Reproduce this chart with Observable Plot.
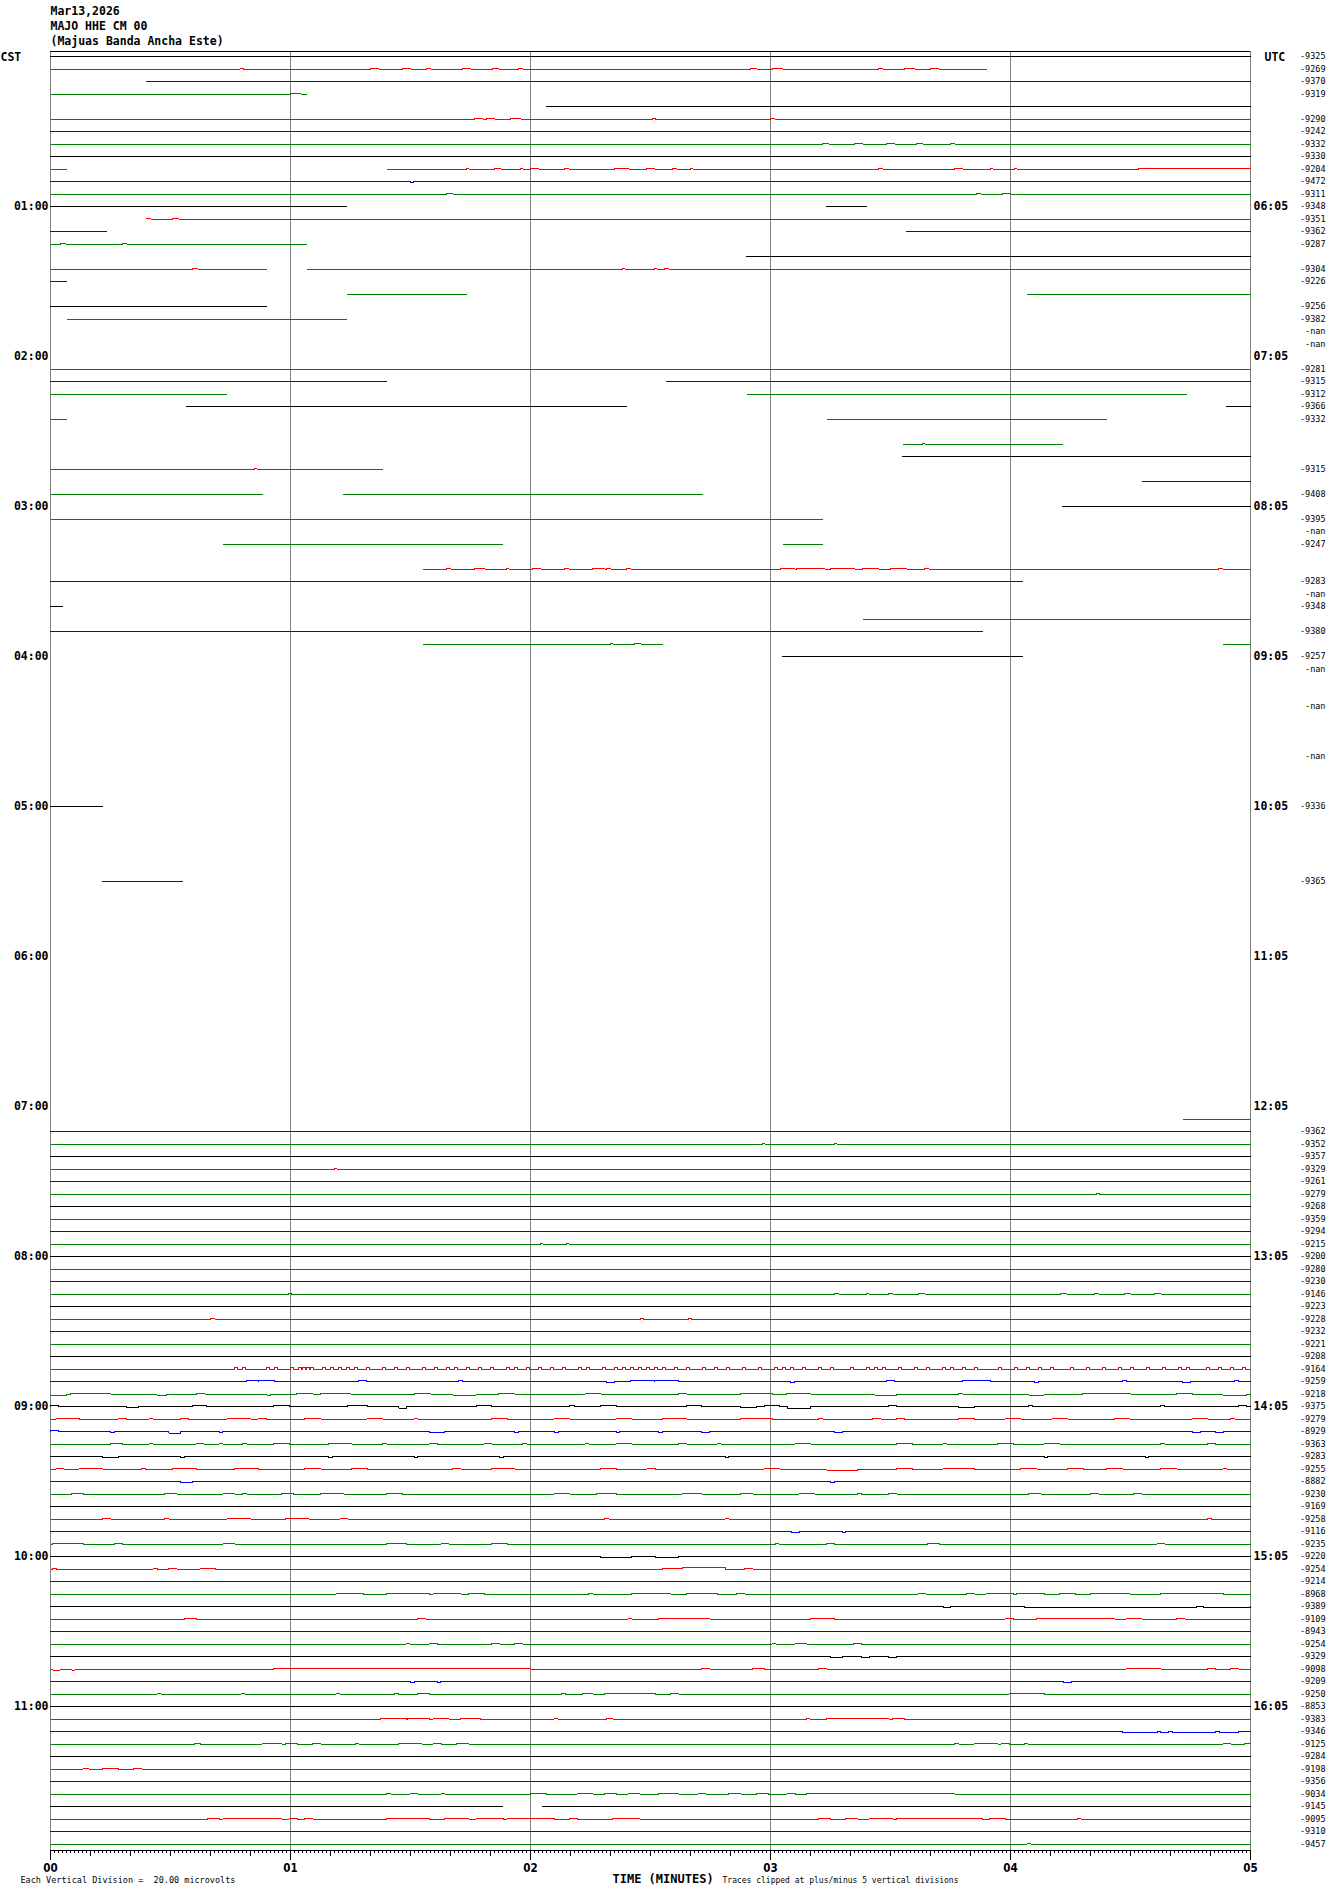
<!DOCTYPE html>
<html><head><meta charset="utf-8">
<script src="https://cdn.jsdelivr.net/npm/d3@7"></script>
<script src="https://cdn.jsdelivr.net/npm/@observablehq/plot@0.6"></script>
<style>html,body{margin:0;padding:0;background:#fff;} svg{display:block}</style>
</head><body><div id="chart"></div>
<script>
// ---------- DATA ----------
const headerLines = ["Mar13,2026", "MAJO HHE CM 00", "(Majuas Banda Ancha Este)"];
const traceColors = ["#000000", "#ff0000", "#0000ff", "#008000"]; // row cycle
const rowCount = 144;           // 5-minute rows, 00:00 .. 11:55 CST
const secondsPerRow = 300;
const cstHours = ["01:00","02:00","03:00","04:00","05:00","06:00","07:00","08:00","09:00","10:00","11:00"];
const utcHours = ["06:05","07:05","08:05","09:05","10:05","11:05","12:05","13:05","14:05","15:05","16:05"];
const minuteLabels = ["00","01","02","03","04","05"];

// right-hand row readings [row, text]
const rowReadings = [
 [0,"-9325"],[1,"-9269"],[2,"-9370"],[3,"-9319"],[5,"-9290"],[6,"-9242"],[7,"-9332"],[8,"-9330"],
 [9,"-9204"],[10,"-9472"],[11,"-9311"],[12,"-9348"],[13,"-9351"],[14,"-9362"],[15,"-9287"],
 [17,"-9304"],[18,"-9226"],[20,"-9256"],[21,"-9382"],[22,"-nan"],[23,"-nan"],
 [25,"-9281"],[26,"-9315"],[27,"-9312"],[28,"-9366"],[29,"-9332"],[33,"-9315"],[35,"-9408"],
 [37,"-9395"],[38,"-nan"],[39,"-9247"],[42,"-9283"],[43,"-nan"],[44,"-9348"],[46,"-9380"],
 [48,"-9257"],[49,"-nan"],[52,"-nan"],[56,"-nan"],[60,"-9336"],[66,"-9365"],
 [86,"-9362"],[87,"-9352"],[88,"-9357"],[89,"-9329"],[90,"-9261"],[91,"-9279"],[92,"-9268"],[93,"-9359"],
 [94,"-9294"],[95,"-9215"],[96,"-9200"],[97,"-9280"],[98,"-9230"],[99,"-9146"],[100,"-9223"],[101,"-9228"],
 [102,"-9232"],[103,"-9221"],[104,"-9208"],[105,"-9164"],[106,"-9259"],[107,"-9218"],[108,"-9375"],
 [109,"-9279"],[110,"-8929"],[111,"-9363"],[112,"-9283"],[113,"-9255"],[114,"-8882"],[115,"-9230"],
 [116,"-9169"],[117,"-9258"],[118,"-9116"],[119,"-9235"],[120,"-9220"],[121,"-9254"],[122,"-9214"],
 [123,"-8968"],[124,"-9389"],[125,"-9109"],[126,"-8943"],[127,"-9254"],[128,"-9329"],[129,"-9098"],
 [130,"-9209"],[131,"-9250"],[132,"-8853"],[133,"-9383"],[134,"-9346"],[135,"-9125"],[136,"-9284"],
 [137,"-9198"],[138,"-9356"],[139,"-9034"],[140,"-9145"],[141,"-9095"],[142,"-9310"],[143,"-9457"]
];

// recorded segments [row, startSec, endSec]
const segments = [
 [0,0,300],[1,0,234],[2,24,300],[3,0,64],[4,124,300],[5,0,300],[6,0,300],[7,0,300],[8,0,300],
 [9,0,4],[9,84,300],[10,0,300],[11,0,300],[12,0,74],[12,194,204],[13,24,300],[14,0,14],[14,214,300],
 [15,0,64],[16,174,300],[17,0,54],[17,64,300],[18,0,4],[19,74,104],[19,244,300],[20,0,54],[21,4,74],
 [25,0,300],[26,0,84],[26,154,300],[27,0,44],[27,174,284],[28,34,144],[28,294,300],[29,0,4],[29,194,264],
 [31,213,253],[32,213,300],[33,0,83],[34,273,300],[35,0,53],[35,73,163],[36,253,300],[37,0,193],
 [39,43,113],[39,183,193],[41,93,300],[42,0,243],[44,0,3],[45,203,300],[46,0,233],[47,93,153],[47,293,300],
 [48,183,243],[60,0,13],[66,13,33],[85,283,300],
 [86,0,300],[87,0,300],[88,0,300],[89,0,300],[90,0,300],[91,0,300],[92,0,300],[93,0,300],[94,0,300],
 [95,0,300],[96,0,300],[97,0,300],[98,0,300],[99,0,300],[100,0,300],[101,0,300],[102,0,300],[103,0,300],
 [104,0,300],[105,0,300],[106,0,300],[107,0,300],[108,0,300],[109,0,300],[110,0,300],[111,0,300],
 [112,0,300],[113,0,300],[114,0,300],[115,0,300],[116,0,300],[117,0,300],[118,0,300],[119,0,300],
 [120,0,300],[121,0,300],[122,0,300],[123,0,300],[124,0,300],[125,0,300],[126,0,300],[127,0,300],
 [128,0,300],[129,0,300],[130,0,300],[131,0,300],[132,0,300],[133,0,300],[134,0,300],[135,0,300],
 [136,0,300],[137,0,300],[138,0,300],[139,0,300],[140,0,113],[140,123,300],[141,0,300],[142,0,300],[143,0,300]
];

// trace excursions [row, startSec, endSec, amplitude] (+ = up)
const excursions = [
 [1,47.4,48.2,1],[1,80,82,1],[1,88,90,1],[1,94,95,1],[1,103,105,1],[1,110.5,112,1],[1,117,118,1],
 [1,175,176.5,1],[1,180.5,183,1],[1,207,208,1],[1,213.5,216,1],[1,220,222,1],
 [3,60,62.5,1],
 [5,106,108,1],[5,109,111,1],[5,115,117.5,1],[5,150.5,151.2,1],[5,180,181,1],
 [7,193,194.5,1],[7,201,203,1],[7,209,211,1],[7,216.5,218,1],[7,225,226,1],
 [9,104,104.6,1],[9,111,112.5,1],[9,117.5,118.1,1],[9,120,122,1],[9,128.5,129.5,1],[9,141,144.5,1],
 [9,149,151,1],[9,155.5,156.6,1],[9,160,160.6,1],[9,207,208,1],[9,226,228,1],[9,235,235.6,1],
 [9,241,241.6,1],[9,272,300,1],
 [10,90,90.8,-1],
 [11,99,100.5,1],[11,231.5,232.5,1],[11,238,240,1],
 [13,24,25,1],[13,30.5,32,1],
 [15,2.5,3.8,1],[15,18,19,1],
 [17,35.5,36.8,1],[17,143,143.6,1],[17,151,151.6,1],[17,153.5,154.5,1],
 [31,218,218.6,1],[33,51,51.6,1],
 [41,99,100,1],[41,106,108.5,1],[41,114,114.6,1],[41,120.5,122.5,1],[41,128.5,129.5,1],[41,135.5,138.5,1],
 [41,139,140,1],[41,144,145,1],[41,182.5,186,1],[41,186.5,193.5,1],[41,195,201,1],[41,203,207,1],
 [41,210,214,1],[41,218.5,219.5,1],[41,292,293,1],
 [47,140,140.6,1],[47,146,147.5,1],
 [87,178,178.6,1],[87,196,196.6,1],[89,71,71.6,1],[91,261.5,262.2,1],[95,122.5,123.1,1],[95,129,129.6,1],
 [99,59.5,60.2,1],[99,196,197,1],[99,204,204.6,1],[99,209.5,210.5,1],[99,217,218.5,1],[99,252.5,254,1],
 [99,261,262,1],[99,268.5,270,1],[99,276,277.5,1],
 [101,40,41,1],[101,147.5,148.2,1],[101,159.5,160.2,1],
 [106,49,52,1],[106,52,56,1.5],[106,77,79,1],[106,102,103,1],[106,139,141,-1],[106,145,151,1],[106,151,157,1.5],
 [106,185,186,-1],[106,209,211,1],[106,228,235,1],[106,246,247,-1],[106,268,269,1],[106,283,285,-1],[106,296,297,1],
 [107,0,4,-1],[107,5,15,1],[107,26.5,29,-1],[107,36.5,38.5,1],[107,54,55,-1],[107,61.5,65.5,1],[107,67.5,75,1],
 [107,91,95,1],[107,100.6,106.4,-1],[107,112,116,1],[107,133.7,137.5,1],[107,157,159,1],[107,172.6,180.4,1],
 [107,184,190,1],[107,206,211.5,-1],[107,227,228,1],[107,244.6,248.4,-1],[107,258,270,1],[107,281.5,285.4,1],[107,293,299,-1],
 [108,0,2,1],[108,18.9,22,-1],[108,35.4,39,1.5],[108,55.8,59.7,1.5],[108,74.3,79.2,1.5],[108,87,89,-1.5],[108,106.4,110.3,1],
 [108,129.8,131,1],[108,137.5,141.4,1],[108,159,162.8,1],[108,172.6,176.5,-1],[108,178.4,182.3,1.5],[108,184.2,190.1,-1.5],
 [108,209.5,211.5,1],[108,227,231,-1],[108,244.6,245.5,1],[108,277.6,278.5,1],[108,297,299,1],
 [109,1.4,7.2,1],[109,16.9,18.9,1],[109,24.7,25.5,1],[109,32.5,34.4,1],[109,44.2,50,1],[109,51.9,53.9,1],
 [109,63.6,67.5,1],[109,79.2,83.1,1],[109,90.9,91.8,1],[109,110.3,114.2,1],[109,125.9,129.8,1],[109,141.4,145.3,1],
 [109,153.1,159,1],[109,172.6,180.4,1],[109,192,193,1],[109,205.6,207.6,1],[109,211.5,213.4,1],[109,227,230.9,1],
 [109,238.7,242.6,1],[109,250.4,254.3,1],[109,266,269.8,1],[109,285.4,289.3,1],[109,295.1,296,1],
 [110,0,2,1],[110,15,16,-1],[110,29.6,32.5,-1.5],[110,42.2,43,-1],[110,94.7,98.6,-1],[110,116.1,117,-1],
 [110,125.9,127,-1],[110,141.4,142.3,-1],[110,152.1,153.1,-1],[110,162.8,164.8,-1],[110,195.9,197.9,-1],
 [110,285.4,287.4,-1],[110,291.2,293.2,-1],
 [111,15,17.9,1],[111,24.7,25.5,1],[111,36.4,38.3,1],[111,42.2,43,1],[111,48.1,49,1],[111,55.8,59.7,1],
 [111,69.5,75.3,1],[111,83.1,84,1],[111,94.7,96.7,1],[111,108.4,110.3,1],[111,118.1,119,1],[111,133.7,134.6,1],
 [111,141.4,145.3,1],[111,157,159,1],[111,166.7,167.5,1],[111,186.2,190.1,1],[111,211.5,215.4,1],[111,223.2,224,1],
 [111,236.8,240.7,1],[111,248.4,252.3,1],[111,277.6,278.5,1],[111,289.3,291.2,1],
 [112,13,16.9,-1],[112,32.5,33.4,-1],[112,69.5,70.4,-1],[112,90.9,91.8,-1],[112,112.3,113.2,-1],
 [112,168.7,169.6,-1],[112,248.4,249.3,-1],[112,273.7,274.6,-1],
 [113,1.4,3.3,1],[113,7.2,13,1],[113,22.8,23.7,1],[113,30.5,36.4,1],[113,46.1,51.9,1],[113,63.6,67.5,1],
 [113,75.3,79.2,1],[113,100.6,102.5,1],[113,110.3,116.1,1],[113,137.5,141.4,1],[113,149.2,151.2,1],
 [113,178.4,182.3,1],[113,194,201.8,-1],[113,211.5,215.4,1],[113,223.2,230.9,1],[113,242.6,246.5,1],
 [113,254.3,258.2,1],[113,264,268,1],[113,277.6,281.5,1],[113,293.2,294,1],
 [114,32.5,35.4,-1],[114,194.9,196,-1],
 [115,5.3,8.2,1],[115,28.6,31.5,1],[115,43.2,46.1,1],[115,48.1,49,1],[115,57.8,60.7,1],[115,67.5,73.3,1],
 [115,84,87.9,1],[115,125.9,129.8,1],[115,136.6,141.4,1],[115,157.9,162.8,1],[115,172.6,175.5,1],
 [115,187.2,191.1,1],[115,201.8,202.7,1],[115,209.5,211.5,1],[115,244.6,247.5,1],[115,260.1,262.1,1],[115,270.8,272.8,1],
 [117,13,15,1],[117,28.6,29.5,1],[117,44.2,50,1],[117,58.8,64.6,1],[117,72.4,74.3,1],[117,138.5,139.5,1],
 [117,168.7,169.6,1],[117,289.3,290.2,1],
 [118,185.2,187.2,-1],[118,197.9,198.8,-1],
 [119,0.5,8.2,1],[119,16,17.9,1],[119,43.2,46.1,1],[119,84,88.9,1],[119,97.7,99.6,1],[119,110.3,114.2,1],
 [119,181.3,182,1],[119,194,195.9,1],[119,219.3,222.2,1],[119,276.7,278.6,1],
 [120,137.5,145.3,-1],[120,151.2,157,-1],
 [121,0.5,1.4,1],[121,25.7,26.7,1],[121,29.6,31.5,1],[121,37.4,41.2,1],[121,153.1,158,1],[121,158,168.7,1.5],[121,173.5,175.5,1],
 [123,71.4,78.2,1],[123,84,94.7,1],[123,95.7,102.5,1],[123,104.5,108.4,1],[123,134.6,135.5,1],[123,145.3,155.1,1],
 [123,159,166.7,1],[123,171.6,173.5,1],[123,216.9,218.8,1],[123,229,231,1],[123,233.9,240.7,1],[123,241.6,248.4,1],
 [123,252.3,256.2,1],[123,260.1,269.8,1],[123,277.6,293.2,1],
 [124,223.2,225.1,-1],[124,243.6,286.4,-1],[124,288.3,300,-1],
 [125,33.5,36.4,1],[125,91.8,93.8,1],[125,144.4,145.3,1],[125,152.1,164.8,1],[125,190.1,195.9,1],[125,238.7,240.7,1],
 [125,246.5,266,1],[125,268.9,272.8,1],[125,281.5,283.5,1],
 [127,88.9,89.8,1],[127,94.7,96.7,1],[127,110.3,112.3,1],[127,116.1,118.1,1],[127,180.4,181.3,1],[127,186.2,189.1,1],[127,200.8,202.7,1],
 [128,194.9,197.9,-1],[128,202.7,204.7,-1],[128,209.5,211.5,-1],
 [129,0.5,2.4,-1],[129,5.3,6.2,-1],[129,55.8,120,1],[129,162.8,164.8,1],[129,175.5,178.4,1],[129,192,194,1],
 [129,268.9,277.6,1],[129,289.3,291.2,1],[129,295.1,297.1,1],
 [130,89.9,91,-1],[130,96.7,97.6,-1],[130,253.3,255.3,-1],
 [131,26.7,27.6,1],[131,47.7,48.6,1],[131,71.4,72.3,1],[131,86,86.9,1],[131,91.8,94.7,1],[131,127.8,128.7,1],
 [131,133.1,135.6,1],[131,138.5,151.2,1],[131,155.1,157,1],[131,239.7,248.4,1],
 [133,82.5,88.9,1],[133,89.3,94.7,1],[133,95.7,99.6,1],[133,102.5,107.4,1],[133,125.9,126.8,1],[133,139.1,140.5,1],
 [133,189.1,189.8,1],[133,194,209.5,1],[133,210.5,213.4,1],
 [134,267.9,276.7,-1],[134,277.6,279.6,-1],[134,280.5,291.2,-1],[134,292.2,297.1,-1],
 [135,36,37.4,1],[135,52.9,57.8,1],[135,58.8,61.7,1],[135,65.6,67.5,1],[135,76.3,77,1],[135,87,92.8,1],
 [135,95.7,97.7,1],[135,101.6,104.5,1],[135,226.1,227,1],[135,230.9,236.8,1],[135,237.7,239.7,1],[135,243.6,244.3,1],
 [135,293.2,295.1,1],[135,298.6,300,1],
 [137,8.2,9.5,1],[137,13,16.9,1],[137,20.8,22.8,1],
 [139,84,85,1],[139,89.9,91.8,1],[139,97.7,98.6,1],[139,120,123.9,1],[139,131.7,135.6,1],[139,138.5,141.4,1],
 [139,144.4,147.3,1],[139,152.1,157,1],[139,161.9,163.8,1],[139,169.6,172.6,1],[139,176.5,179.4,1],
 [139,184.2,186.2,1],[139,189.1,226.1,1],
 [141,39.3,42.2,1],[141,43.2,57.8,1],[141,59.7,61.7,1],[141,63.6,65.6,1],[141,84,94.7,1],[141,98.6,104.5,1],
 [141,106.4,113.2,1],[141,114.2,125.9,1],[141,129.8,131.7,1],[141,140.5,147.3,1],[141,192,194.9,1],
 [141,198.8,201.8,1],[141,204.7,210.5,1],[141,211.5,232.9,1],[141,234.8,238.7,1],[141,256.8,257.5,1],
 [143,244.2,245,1]
];
// row 105: dense short spikes (seconds)
const spikes105 = [46,48,54,56,60,62,63,64,65,68,70,72,74,76,79,83,86,89,93,96,99,101,104,107,110,114,116,119,
 122,125,128,132,134,138,141,143,145,147,149,151,153,156,159,163,166,169,173,177,181,183,185,188,192,195,
 200,204,206,208,212,216,219,223,225,228,231,237,241,244,247,250,255,259,263,267,270,274,278,282,284,289,292,295,298];

// ---------- LAYOUT ----------
const W = 1330, H = 1894;
const mT = 51, mB = 44, mL = 50, mR = 80;
const yDomain = [-0.4, 143.52];
const rowPx = (H - mT - mB) / (yDomain[1] - yDomain[0]);
const ampRows = 1 / rowPx;

const allEx = excursions.concat(spikes105.map(t => [105, t, t + 0.7, 1.5]));
const exByRow = d3.group(allEx, d => d[0]);
const pts = [];
segments.forEach(([row, s0, s1], k) => {
  const color = traceColors[row % 4];
  const ex = (exByRow.get(row) || []).filter(b => b[1] < s1 && b[2] > s0).sort((a, b) => a[1] - b[1]);
  pts.push({t: s0, y: row, k, color});
  let prev = s0;
  for (const [, b0, b1, a] of ex) {
    const st = Math.max(b0, prev, s0), en = Math.min(b1, s1);
    if (en <= st) continue;
    pts.push({t: st, y: row - a * ampRows, k, color});
    pts.push({t: en, y: row, k, color});
    prev = en;
  }
  pts.push({t: s1, y: row, k, color});
});

const secTicks = d3.range(0, secondsPerRow + 1);
const tickLen = s => (s % 60 === 0 ? 10 : s % 10 === 0 ? 6 : 3);
const minuteSecs = minuteLabels.map((_, i) => i * 60);
const hourRows = cstHours.map((h, i) => ({row: (i + 1) * 12, cst: h, utc: utcHours[i]}));

const mono = "DejaVu Sans Mono, monospace";
const narrow = "Liberation Sans Narrow, DejaVu Sans Condensed, DejaVu Sans, sans-serif";

const chart = Plot.plot({
  width: W, height: H,
  marginTop: mT, marginBottom: mB, marginLeft: mL, marginRight: mR,
  x: {domain: [0, secondsPerRow], axis: null},
  y: {domain: yDomain, reverse: true, axis: null},
  color: {type: "identity"},
  style: {fontFamily: mono, background: "#fff", color: "#000"},
  marks: [
    Plot.ruleX(minuteSecs, {stroke: "#808080", strokeWidth: 1, shapeRendering: "crispEdges"}),
    Plot.ruleY([yDomain[0], yDomain[1]], {stroke: "#000", strokeWidth: 1, shapeRendering: "crispEdges"}),
    Plot.ruleX(secTicks, {x: d => d, y1: yDomain[1], y2: d => yDomain[1] + tickLen(d) / rowPx, stroke: "#000", strokeWidth: 1, shapeRendering: "crispEdges"}),
    Plot.line(pts, {x: "t", y: "y", z: "k", stroke: "color", curve: "step-after", strokeWidth: 1, shapeRendering: "crispEdges"}),
    // left/right hour labels
    Plot.text(hourRows, {y: "row", text: "cst", frameAnchor: "left", textAnchor: "end", lineAnchor: "middle", dx: -2, fontSize: 11.5, fontWeight: "bold"}),
    Plot.text(hourRows, {y: "row", text: "utc", frameAnchor: "right", textAnchor: "start", lineAnchor: "middle", dx: 3, fontSize: 11.5, fontWeight: "bold"}),
    Plot.text(["CST"], {y: 0, text: d => d, frameAnchor: "left", textAnchor: "start", lineAnchor: "middle", dx: -mL, dy: 1, fontSize: 11.5, fontWeight: "bold"}),
    Plot.text(["UTC"], {y: 0, text: d => d, frameAnchor: "right", textAnchor: "start", lineAnchor: "middle", dx: 14, dy: 1, fontSize: 11.5, fontWeight: "bold"}),
    // right readings
    Plot.text(rowReadings, {y: d => d[0], text: d => d[1], frameAnchor: "right", textAnchor: "end", lineAnchor: "middle", dx: 75, fontSize: 8.5}),
    // header
    Plot.text([headerLines[0]], {text: d => d, frameAnchor: "top-left", textAnchor: "start", lineAnchor: "middle", dy: -40, fontSize: 11.5, fontWeight: "bold"}),
    Plot.text([headerLines[1]], {text: d => d, frameAnchor: "top-left", textAnchor: "start", lineAnchor: "middle", dy: -25, fontSize: 11.5, fontWeight: "bold"}),
    Plot.text([headerLines[2]], {text: d => d, frameAnchor: "top-left", textAnchor: "start", lineAnchor: "middle", dy: -10, fontSize: 11.5, fontWeight: "bold"}),
    // minute labels
    Plot.text(minuteLabels, {x: (d, i) => minuteSecs[i], text: d => d, frameAnchor: "bottom", lineAnchor: "middle", dy: 18, fontSize: 11.5, fontWeight: "bold", fontFamily: narrow}),
    // footer
    Plot.text(["Each Vertical Division =  20.00 microvolts"], {text: d => d, frameAnchor: "bottom-left", textAnchor: "start", lineAnchor: "middle", dx: -30, dy: 30, fontSize: 8.5}),
    Plot.text(["TIME (MINUTES)"], {text: d => d, frameAnchor: "bottom-left", textAnchor: "start", lineAnchor: "middle", dx: 562, dy: 29, fontSize: 12, fontWeight: "bold"}),
    Plot.text(["Traces clipped at plus/minus 5 vertical divisions"], {text: d => d, frameAnchor: "bottom-left", textAnchor: "start", lineAnchor: "middle", dx: 672, dy: 30, fontSize: 8})
  ]
});
document.getElementById("chart").appendChild(chart);
</script>
</body></html>
